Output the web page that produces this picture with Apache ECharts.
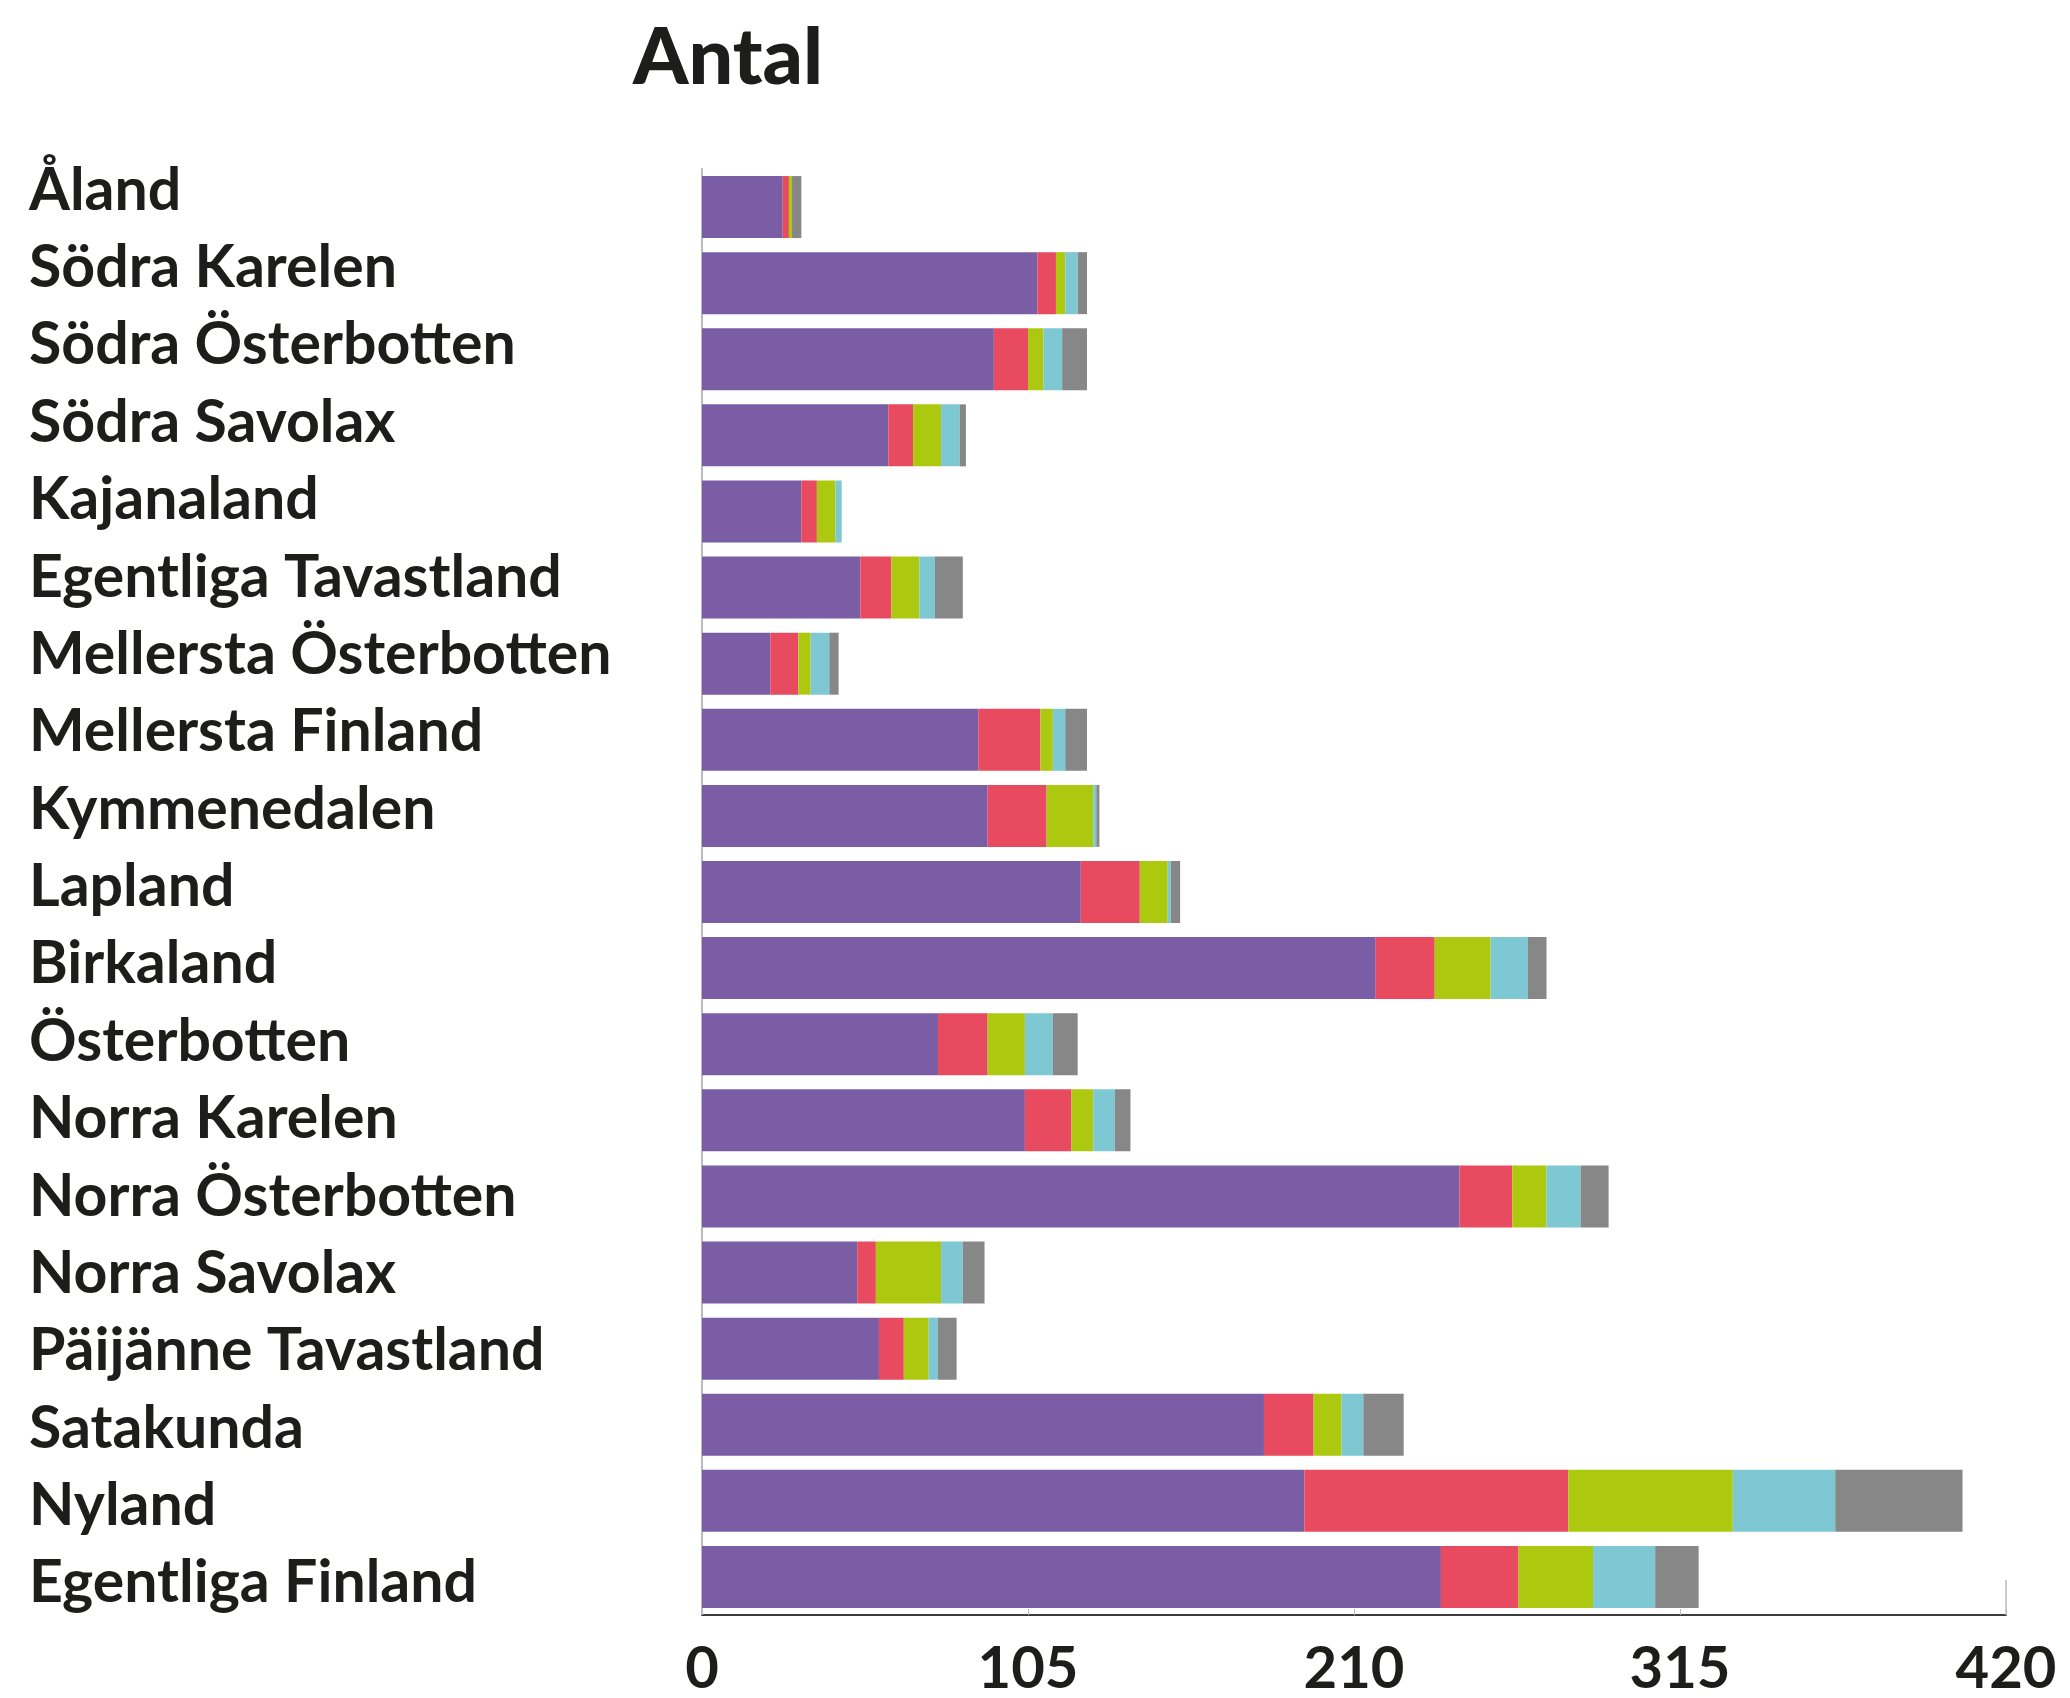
<!DOCTYPE html>
<html>
<head>
<meta charset="utf-8">
<script src="https://cdn.jsdelivr.net/npm/echarts@6/dist/echarts.min.js"></script>
<style>
html,body{margin:0;padding:0;background:#fff;}
#chart{width:2070px;height:1698px;}
</style>
</head>
<body>
<div id="chart"></div>
<script>
const categories = ["Åland","Södra Karelen","Södra Österbotten","Södra Savolax","Kajanaland","Egentliga Tavastland","Mellersta Österbotten","Mellersta Finland","Kymmenedalen","Lapland","Birkaland","Österbotten","Norra Karelen","Norra Österbotten","Norra Savolax","Päijänne Tavastland","Satakunda","Nyland","Egentliga Finland"];
const serie1 = [26,108,94,60,32,51,22,89,92,122,217,76,104,244,50,57,181,194,238];
const serie2 = [2,6,11,8,5,10,9,20,19,19,19,16,15,17,6,8,16,85,25];
const serie3 = [1,3,5,9,6,9,4,4,15,9,18,12,7,11,21,8,9,53,24];
const serie4 = [0,4,6,6,2,5,6,4,1,1,12,9,7,11,7,3,7,33,20];
const serie5 = [3,3,8,2,0,9,3,7,1,3,6,8,5,9,7,6,13,41,14];
const seriesNames = ["Serie 1","Serie 2","Serie 3","Serie 4","Serie 5"];
const colors = ["#7a5da5","#e84a5f","#adc90f","#7dc8d2","#878787"];
const xTicks = {min:0, max:420, interval:105};

const chart = echarts.init(document.getElementById('chart'), null, {renderer:'canvas'});
const fontFamily = 'Lato, "Noto Sans", sans-serif';
const allSeries = [serie1,serie2,serie3,serie4,serie5].map((d,i)=>({
  name: seriesNames[i],
  type: 'bar',
  stack: 'total',
  xAxisIndex: 0,
  yAxisIndex: 0,
  data: d,
  barWidth: 62,
  itemStyle: {color: colors[i]},
  emphasis: {disabled: true},
  silent: true
}));
chart.setOption({
  animation: false,
  backgroundColor: '#ffffff',
  title: {
    text: 'Antal',
    left: 628,
    top: 14,
    textStyle: {fontFamily: fontFamily, fontSize: 79, fontWeight: 900, color: '#1d1d1b'}
  },
  grid: [
    {left: 702, right: 64, top: 169, bottom: 80, containLabel: false},
    {left: 702, right: 64, top: 152, bottom: 76, containLabel: false}
  ],
  xAxis: [
    {
      type: 'value', gridIndex: 0,
      min: xTicks.min, max: xTicks.max, interval: xTicks.interval,
      axisLine: {show: true, lineStyle: {color: '#3c3c3c', width: 2}},
      axisTick: {show: true, inside: true, length: 6, lineStyle: {color: '#bbbbbb', width: 1}},
      splitLine: {show: false},
      axisLabel: {fontFamily: fontFamily, fontSize: 58, fontWeight: 'bold', color: '#1d1d1b', margin: 25}
    },
    {
      type: 'value', gridIndex: 0,
      min: xTicks.min, max: xTicks.max, interval: xTicks.max,
      position: 'bottom',
      axisLine: {show: false},
      axisTick: {show: true, inside: true, length: 35, lineStyle: {color: '#bbbbbb', width: 1.5}},
      splitLine: {show: false},
      axisLabel: {show: false}
    },
    {
      type: 'value', gridIndex: 1, show: false,
      min: xTicks.min, max: xTicks.max
    }
  ],
  yAxis: [
    {
      type: 'category', gridIndex: 0,
      data: categories,
      inverse: true,
      axisLine: {show: true, lineStyle: {color: '#bbbbbb', width: 2}},
      axisTick: {show: false},
      axisLabel: {show: false}
    },
    {
      type: 'category', gridIndex: 1,
      data: categories,
      inverse: true,
      axisLine: {show: false},
      axisTick: {show: false},
      splitLine: {show: false},
      axisLabel: {fontFamily: fontFamily, fontSize: 59, fontWeight: 'bold', color: '#1d1d1b', align: 'left', margin: 673}
    }
  ],
  series: allSeries
});
</script>
</body>
</html>
